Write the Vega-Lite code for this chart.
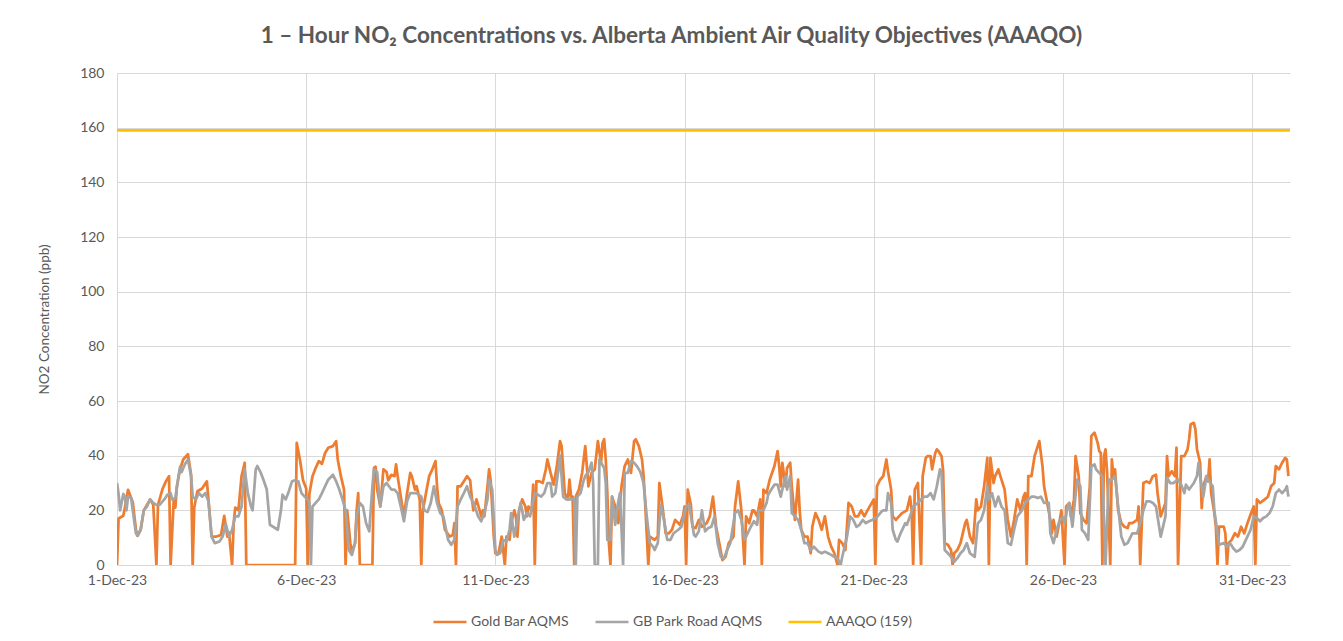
{
"$schema":"https://vega.github.io/schema/vega-lite/v6.json",
"width":1173,"height":492,
"autosize":{"type":"none"},
"padding":{"left":117,"top":73,"right":53,"bottom":76},
"background":"white",
"config":{"view":{"stroke":null},"font":"Lato",
 "axis":{"labelFont":"Lato","titleFont":"Lato","labelColor":"#595959","titleColor":"#595959","gridColor":"#D9D9D9","gridWidth":1,"tickSize":0,"labelFontSize":14,"titleFontSize":13.5,"titleFontWeight":"normal"},
 "legend":{"labelFont":"Lato","labelFontSize":14,"labelColor":"#595959"}},
"title":{"text":"1 – Hour NO₂ Concentrations vs. Alberta Ambient Air Quality Objectives (AAAQO)","font":"Lato","fontSize":22.5,"fontWeight":"bold","color":"#595959","anchor":"middle","frame":"group","dx":-32,"offset":19},
"datasets":{
"gold":[
{"t":"2023-12-01T00:00","v":0},{"t":"2023-12-01T01:00","v":17},{"t":"2023-12-01T04:00","v":18},{"t":"2023-12-01T05:00","v":21},{"t":"2023-12-01T07:00","v":27.5},{"t":"2023-12-01T10:00","v":23},{"t":"2023-12-01T12:00","v":13},{"t":"2023-12-01T13:00","v":10.7},{"t":"2023-12-01T15:00","v":12.9},{"t":"2023-12-01T17:00","v":20},{"t":"2023-12-01T19:00","v":22},{"t":"2023-12-01T21:00","v":24},{"t":"2023-12-01T23:00","v":22},
{"t":"2023-12-02T01:00","v":0},{"t":"2023-12-02T02:00","v":22},{"t":"2023-12-02T05:00","v":28},{"t":"2023-12-02T07:00","v":30.6},{"t":"2023-12-02T09:00","v":32.5},{"t":"2023-12-02T10:00","v":0},{"t":"2023-12-02T12:00","v":24},{"t":"2023-12-02T13:00","v":21},{"t":"2023-12-02T14:00","v":28.8},{"t":"2023-12-02T16:00","v":35},{"t":"2023-12-02T18:00","v":38.6},{"t":"2023-12-02T21:00","v":40.5},{"t":"2023-12-02T23:00","v":33},
{"t":"2023-12-03T00:00","v":0},{"t":"2023-12-03T01:00","v":21},{"t":"2023-12-03T03:00","v":27},{"t":"2023-12-03T06:00","v":28},{"t":"2023-12-03T09:00","v":30.6},{"t":"2023-12-03T10:00","v":24},{"t":"2023-12-03T12:00","v":10.4},{"t":"2023-12-03T15:00","v":10.4},{"t":"2023-12-03T18:00","v":11},{"t":"2023-12-03T20:00","v":18},{"t":"2023-12-03T22:00","v":10.4},{"t":"2023-12-03T23:00","v":12},
{"t":"2023-12-04T01:00","v":0},{"t":"2023-12-04T02:00","v":15.3},{"t":"2023-12-04T03:00","v":21},{"t":"2023-12-04T05:00","v":20},{"t":"2023-12-04T07:00","v":32.5},{"t":"2023-12-04T09:00","v":37.4},{"t":"2023-12-04T10:00","v":0},
{"t":"2023-12-05T17:00","v":0},{"t":"2023-12-05T18:00","v":44.7},{"t":"2023-12-05T20:00","v":38.6},{"t":"2023-12-05T22:00","v":31},
{"t":"2023-12-06T00:00","v":28},{"t":"2023-12-06T01:00","v":0},{"t":"2023-12-06T02:00","v":26},{"t":"2023-12-06T04:00","v":32.5},{"t":"2023-12-06T06:00","v":35.5},{"t":"2023-12-06T08:00","v":38},{"t":"2023-12-06T10:00","v":37},{"t":"2023-12-06T12:00","v":41},{"t":"2023-12-06T14:00","v":42.9},{"t":"2023-12-06T17:00","v":43.5},{"t":"2023-12-06T19:00","v":45.3},{"t":"2023-12-06T20:00","v":38.6},{"t":"2023-12-06T22:00","v":32.5},
{"t":"2023-12-07T00:00","v":27.6},{"t":"2023-12-07T01:00","v":0},{"t":"2023-12-07T02:00","v":20},{"t":"2023-12-07T04:00","v":8},{"t":"2023-12-07T05:00","v":4.9},{"t":"2023-12-07T07:00","v":8},{"t":"2023-12-07T08:00","v":20},{"t":"2023-12-07T09:00","v":26.3},{"t":"2023-12-07T10:00","v":0},{"t":"2023-12-07T18:00","v":0},{"t":"2023-12-07T19:00","v":35.5},{"t":"2023-12-07T20:00","v":36},{"t":"2023-12-07T21:00","v":27.6},{"t":"2023-12-07T23:00","v":21.4},
{"t":"2023-12-08T01:00","v":35},{"t":"2023-12-08T03:00","v":34},{"t":"2023-12-08T04:00","v":31},{"t":"2023-12-08T06:00","v":33},{"t":"2023-12-08T08:00","v":32.5},{"t":"2023-12-08T09:00","v":36.8},{"t":"2023-12-08T10:00","v":32.5},{"t":"2023-12-08T12:00","v":25},{"t":"2023-12-08T14:00","v":17.8},{"t":"2023-12-08T16:00","v":26.3},{"t":"2023-12-08T18:00","v":33.7},{"t":"2023-12-08T19:00","v":32.5},{"t":"2023-12-08T21:00","v":27.6},{"t":"2023-12-08T22:00","v":28.8},
{"t":"2023-12-09T00:00","v":24},{"t":"2023-12-09T01:00","v":0},{"t":"2023-12-09T02:00","v":20},{"t":"2023-12-09T04:00","v":26.3},{"t":"2023-12-09T06:00","v":32.5},{"t":"2023-12-09T08:00","v":35},{"t":"2023-12-09T10:00","v":38},{"t":"2023-12-09T11:00","v":28.8},{"t":"2023-12-09T12:00","v":22.7},{"t":"2023-12-09T14:00","v":20},{"t":"2023-12-09T16:00","v":12.9},{"t":"2023-12-09T19:00","v":10.4},{"t":"2023-12-09T21:00","v":11},{"t":"2023-12-09T22:00","v":15.3},{"t":"2023-12-09T23:00","v":0},
{"t":"2023-12-10T00:00","v":28.8},{"t":"2023-12-10T02:00","v":28.8},{"t":"2023-12-10T04:00","v":30.6},{"t":"2023-12-10T06:00","v":32.5},{"t":"2023-12-10T08:00","v":31},{"t":"2023-12-10T09:00","v":25},{"t":"2023-12-10T10:00","v":20},{"t":"2023-12-10T12:00","v":24},{"t":"2023-12-10T14:00","v":20},{"t":"2023-12-10T15:00","v":17.8},{"t":"2023-12-10T16:00","v":20},{"t":"2023-12-10T17:00","v":17.8},{"t":"2023-12-10T19:00","v":28.8},{"t":"2023-12-10T20:00","v":35},{"t":"2023-12-10T21:00","v":31},{"t":"2023-12-10T23:00","v":10.4},
{"t":"2023-12-11T00:00","v":4.3},{"t":"2023-12-11T02:00","v":4.3},{"t":"2023-12-11T04:00","v":10.4},{"t":"2023-12-11T06:00","v":0},{"t":"2023-12-11T07:00","v":10.4},{"t":"2023-12-11T09:00","v":9.2},{"t":"2023-12-11T10:00","v":15.3},{"t":"2023-12-11T12:00","v":20},{"t":"2023-12-11T13:00","v":17.8},{"t":"2023-12-11T14:00","v":10.4},{"t":"2023-12-11T15:00","v":20},{"t":"2023-12-11T17:00","v":24},{"t":"2023-12-11T19:00","v":21.4},{"t":"2023-12-11T20:00","v":17.8},{"t":"2023-12-11T21:00","v":21.4},{"t":"2023-12-11T23:00","v":20},
{"t":"2023-12-12T00:00","v":29.4},{"t":"2023-12-12T01:00","v":0},{"t":"2023-12-12T02:00","v":30.6},{"t":"2023-12-12T04:00","v":30.6},{"t":"2023-12-12T06:00","v":30},{"t":"2023-12-12T08:00","v":35},{"t":"2023-12-12T09:00","v":38.6},{"t":"2023-12-12T11:00","v":33.7},{"t":"2023-12-12T13:00","v":29.4},{"t":"2023-12-12T15:00","v":36.2},{"t":"2023-12-12T17:00","v":45.3},{"t":"2023-12-12T18:00","v":43.5},{"t":"2023-12-12T20:00","v":26.3},{"t":"2023-12-12T22:00","v":24},{"t":"2023-12-12T23:00","v":31.2},
{"t":"2023-12-13T00:00","v":25},{"t":"2023-12-13T01:00","v":25},{"t":"2023-12-13T02:00","v":0},{"t":"2023-12-13T03:00","v":25},{"t":"2023-12-13T05:00","v":27.6},{"t":"2023-12-13T07:00","v":33.7},{"t":"2023-12-13T09:00","v":43.5},{"t":"2023-12-13T11:00","v":28.8},{"t":"2023-12-13T13:00","v":33.7},{"t":"2023-12-13T15:00","v":35},{"t":"2023-12-13T17:00","v":45.3},{"t":"2023-12-13T19:00","v":37.4},{"t":"2023-12-13T20:00","v":44.7},{"t":"2023-12-13T21:00","v":46},{"t":"2023-12-13T22:00","v":38.6},{"t":"2023-12-13T23:00","v":26.3},
{"t":"2023-12-14T00:00","v":8},{"t":"2023-12-14T01:00","v":0},{"t":"2023-12-14T02:00","v":25},{"t":"2023-12-14T04:00","v":21.4},{"t":"2023-12-14T06:00","v":15.3},{"t":"2023-12-14T08:00","v":28.8},{"t":"2023-12-14T10:00","v":36.2},{"t":"2023-12-14T12:00","v":38.6},{"t":"2023-12-14T14:00","v":33.7},{"t":"2023-12-14T16:00","v":45.3},{"t":"2023-12-14T17:00","v":46},{"t":"2023-12-14T19:00","v":43.5},{"t":"2023-12-14T21:00","v":38.6},{"t":"2023-12-14T22:00","v":32.5},{"t":"2023-12-14T23:00","v":22.7},
{"t":"2023-12-15T01:00","v":0},{"t":"2023-12-15T02:00","v":10.4},{"t":"2023-12-15T05:00","v":9.2},{"t":"2023-12-15T07:00","v":10.4},{"t":"2023-12-15T08:00","v":30},{"t":"2023-12-15T10:00","v":21.4},{"t":"2023-12-15T12:00","v":11.6},{"t":"2023-12-15T14:00","v":11.6},{"t":"2023-12-15T16:00","v":12.9},{"t":"2023-12-15T18:00","v":16.5},{"t":"2023-12-15T21:00","v":14.7},{"t":"2023-12-15T23:00","v":17.8},
{"t":"2023-12-16T00:00","v":21.4},{"t":"2023-12-16T01:00","v":0},{"t":"2023-12-16T02:00","v":27.6},{"t":"2023-12-16T04:00","v":22},{"t":"2023-12-16T05:00","v":14},{"t":"2023-12-16T07:00","v":13.5},{"t":"2023-12-16T09:00","v":16.5},{"t":"2023-12-16T11:00","v":14},{"t":"2023-12-16T14:00","v":15.3},{"t":"2023-12-16T16:00","v":17.8},{"t":"2023-12-16T18:00","v":25},{"t":"2023-12-16T20:00","v":14},{"t":"2023-12-16T22:00","v":8},
{"t":"2023-12-17T00:00","v":1.8},{"t":"2023-12-17T02:00","v":3},{"t":"2023-12-17T04:00","v":8},{"t":"2023-12-17T07:00","v":10.4},{"t":"2023-12-17T08:00","v":21.4},{"t":"2023-12-17T10:00","v":30.6},{"t":"2023-12-17T12:00","v":20},{"t":"2023-12-17T14:00","v":0},{"t":"2023-12-17T15:00","v":17.8},{"t":"2023-12-17T17:00","v":15.3},{"t":"2023-12-17T19:00","v":20},{"t":"2023-12-17T20:00","v":20},{"t":"2023-12-17T22:00","v":17.8},
{"t":"2023-12-18T00:00","v":24},{"t":"2023-12-18T01:00","v":0},{"t":"2023-12-18T02:00","v":27.6},{"t":"2023-12-18T04:00","v":26.3},{"t":"2023-12-18T06:00","v":31.2},{"t":"2023-12-18T09:00","v":36.2},{"t":"2023-12-18T11:00","v":41.7},{"t":"2023-12-18T12:00","v":36.2},{"t":"2023-12-18T13:00","v":28.8},{"t":"2023-12-18T14:00","v":37.4},{"t":"2023-12-18T16:00","v":28.8},{"t":"2023-12-18T17:00","v":35.5},{"t":"2023-12-18T19:00","v":37.4},{"t":"2023-12-18T20:00","v":28.8},{"t":"2023-12-18T22:00","v":16.5},
{"t":"2023-12-19T00:00","v":31.2},{"t":"2023-12-19T01:00","v":20},{"t":"2023-12-19T02:00","v":12.9},{"t":"2023-12-19T04:00","v":10.4},{"t":"2023-12-19T06:00","v":10.4},{"t":"2023-12-19T08:00","v":4.3},{"t":"2023-12-19T09:00","v":14},{"t":"2023-12-19T11:00","v":19},{"t":"2023-12-19T13:00","v":16.5},{"t":"2023-12-19T15:00","v":12.9},{"t":"2023-12-19T17:00","v":17.8},{"t":"2023-12-19T19:00","v":10.4},{"t":"2023-12-19T21:00","v":6.7},{"t":"2023-12-19T23:00","v":4.3},
{"t":"2023-12-20T01:00","v":0},{"t":"2023-12-20T02:00","v":9.2},{"t":"2023-12-20T04:00","v":8},{"t":"2023-12-20T06:00","v":5.5},{"t":"2023-12-20T08:00","v":22.7},{"t":"2023-12-20T10:00","v":21.4},{"t":"2023-12-20T12:00","v":17.8},{"t":"2023-12-20T14:00","v":17.8},{"t":"2023-12-20T16:00","v":20},{"t":"2023-12-20T18:00","v":17.8},{"t":"2023-12-20T20:00","v":20},{"t":"2023-12-20T22:00","v":22},
{"t":"2023-12-21T00:00","v":24},{"t":"2023-12-21T01:00","v":0},{"t":"2023-12-21T02:00","v":28.8},{"t":"2023-12-21T04:00","v":31.2},{"t":"2023-12-21T06:00","v":32.5},{"t":"2023-12-21T08:00","v":38.6},{"t":"2023-12-21T09:00","v":34.3},{"t":"2023-12-21T11:00","v":27.6},{"t":"2023-12-21T12:00","v":17.8},{"t":"2023-12-21T14:00","v":16.5},{"t":"2023-12-21T16:00","v":17.8},{"t":"2023-12-21T18:00","v":19},{"t":"2023-12-21T21:00","v":20},{"t":"2023-12-21T23:00","v":25},
{"t":"2023-12-22T00:00","v":20},{"t":"2023-12-22T01:00","v":0},{"t":"2023-12-22T02:00","v":27.6},{"t":"2023-12-22T04:00","v":30},{"t":"2023-12-22T06:00","v":0},{"t":"2023-12-22T07:00","v":32.5},{"t":"2023-12-22T09:00","v":39.2},{"t":"2023-12-22T10:00","v":39.8},{"t":"2023-12-22T12:00","v":39.8},{"t":"2023-12-22T13:00","v":35},{"t":"2023-12-22T15:00","v":41},{"t":"2023-12-22T16:00","v":42.3},{"t":"2023-12-22T17:00","v":41.7},{"t":"2023-12-22T19:00","v":39.8},{"t":"2023-12-22T20:00","v":34.3},{"t":"2023-12-22T21:00","v":8},{"t":"2023-12-22T23:00","v":7.4},
{"t":"2023-12-23T01:00","v":5.5},{"t":"2023-12-23T02:00","v":0},{"t":"2023-12-23T03:00","v":4.3},{"t":"2023-12-23T05:00","v":5.5},{"t":"2023-12-23T07:00","v":8},{"t":"2023-12-23T10:00","v":15.3},{"t":"2023-12-23T11:00","v":16.5},{"t":"2023-12-23T13:00","v":10.4},{"t":"2023-12-23T15:00","v":8},{"t":"2023-12-23T17:00","v":24},{"t":"2023-12-23T18:00","v":20},{"t":"2023-12-23T20:00","v":21.4},{"t":"2023-12-23T22:00","v":28.8},
{"t":"2023-12-24T00:00","v":39.2},{"t":"2023-12-24T01:00","v":0},{"t":"2023-12-24T02:00","v":39.2},{"t":"2023-12-24T04:00","v":30},{"t":"2023-12-24T05:00","v":32.5},{"t":"2023-12-24T07:00","v":35},{"t":"2023-12-24T09:00","v":31.2},{"t":"2023-12-24T11:00","v":27.6},{"t":"2023-12-24T13:00","v":16.5},{"t":"2023-12-24T15:00","v":10.4},{"t":"2023-12-24T17:00","v":16.5},{"t":"2023-12-24T19:00","v":24},{"t":"2023-12-24T21:00","v":20},{"t":"2023-12-24T23:00","v":25},
{"t":"2023-12-25T00:00","v":26.3},{"t":"2023-12-25T01:00","v":0},{"t":"2023-12-25T02:00","v":32.5},{"t":"2023-12-25T04:00","v":32.5},{"t":"2023-12-25T06:00","v":39.8},{"t":"2023-12-25T08:00","v":43.5},{"t":"2023-12-25T09:00","v":45.3},{"t":"2023-12-25T11:00","v":36.2},{"t":"2023-12-25T12:00","v":28.8},{"t":"2023-12-25T14:00","v":22.7},{"t":"2023-12-25T16:00","v":16.5},{"t":"2023-12-25T17:00","v":11.6},{"t":"2023-12-25T18:00","v":16.5},{"t":"2023-12-25T20:00","v":10.4},{"t":"2023-12-25T22:00","v":16.5},{"t":"2023-12-25T23:00","v":20},
{"t":"2023-12-26T01:00","v":0},{"t":"2023-12-26T02:00","v":21.4},{"t":"2023-12-26T04:00","v":22.7},{"t":"2023-12-26T05:00","v":17.8},{"t":"2023-12-26T07:00","v":24},{"t":"2023-12-26T08:00","v":39.8},{"t":"2023-12-26T10:00","v":32.5},{"t":"2023-12-26T11:00","v":19},{"t":"2023-12-26T13:00","v":16.5},{"t":"2023-12-26T15:00","v":15.3},{"t":"2023-12-26T17:00","v":28.8},{"t":"2023-12-26T18:00","v":47.2},{"t":"2023-12-26T20:00","v":48.4},{"t":"2023-12-26T22:00","v":44.7},{"t":"2023-12-26T23:00","v":41.7},
{"t":"2023-12-27T00:00","v":41},{"t":"2023-12-27T01:00","v":0},{"t":"2023-12-27T02:00","v":39.8},{"t":"2023-12-27T03:00","v":42.3},{"t":"2023-12-27T04:00","v":33.7},{"t":"2023-12-27T06:00","v":0},{"t":"2023-12-27T07:00","v":38.6},{"t":"2023-12-27T08:00","v":32.5},{"t":"2023-12-27T09:00","v":35},{"t":"2023-12-27T11:00","v":20},{"t":"2023-12-27T13:00","v":15.3},{"t":"2023-12-27T15:00","v":14},{"t":"2023-12-27T17:00","v":13.5},{"t":"2023-12-27T18:00","v":15.3},{"t":"2023-12-27T20:00","v":15.3},{"t":"2023-12-27T23:00","v":16.5},
{"t":"2023-12-28T00:00","v":21.4},{"t":"2023-12-28T01:00","v":0},{"t":"2023-12-28T03:00","v":30},{"t":"2023-12-28T05:00","v":30.6},{"t":"2023-12-28T07:00","v":30},{"t":"2023-12-28T09:00","v":32.5},{"t":"2023-12-28T11:00","v":33},{"t":"2023-12-28T12:00","v":26.3},{"t":"2023-12-28T14:00","v":17.8},{"t":"2023-12-28T17:00","v":22.7},{"t":"2023-12-28T18:00","v":39.8},{"t":"2023-12-28T19:00","v":32.5},{"t":"2023-12-28T21:00","v":34.3},{"t":"2023-12-28T23:00","v":32.5},
{"t":"2023-12-29T00:00","v":42.9},{"t":"2023-12-29T01:00","v":0},{"t":"2023-12-29T03:00","v":39.8},{"t":"2023-12-29T05:00","v":39.8},{"t":"2023-12-29T07:00","v":42.3},{"t":"2023-12-29T08:00","v":46},{"t":"2023-12-29T09:00","v":51.5},{"t":"2023-12-29T11:00","v":52},{"t":"2023-12-29T12:00","v":49.6},{"t":"2023-12-29T13:00","v":42.3},{"t":"2023-12-29T15:00","v":37.4},{"t":"2023-12-29T16:00","v":20.8},{"t":"2023-12-29T17:00","v":28.8},{"t":"2023-12-29T19:00","v":32.5},{"t":"2023-12-29T20:00","v":30.6},{"t":"2023-12-29T21:00","v":38.6},{"t":"2023-12-29T22:00","v":26.3},
{"t":"2023-12-30T00:00","v":19},{"t":"2023-12-30T01:00","v":14},{"t":"2023-12-30T02:00","v":0},{"t":"2023-12-30T03:00","v":14},{"t":"2023-12-30T06:00","v":14},{"t":"2023-12-30T07:00","v":11.6},{"t":"2023-12-30T08:00","v":0},{"t":"2023-12-30T09:00","v":8},{"t":"2023-12-30T11:00","v":9.2},{"t":"2023-12-30T13:00","v":11.6},{"t":"2023-12-30T15:00","v":10.4},{"t":"2023-12-30T17:00","v":14},{"t":"2023-12-30T19:00","v":11.6},{"t":"2023-12-30T21:00","v":15.3},
{"t":"2023-12-31T00:00","v":20},{"t":"2023-12-31T01:00","v":21.4},{"t":"2023-12-31T02:00","v":0},{"t":"2023-12-31T03:00","v":24},{"t":"2023-12-31T05:00","v":22.7},{"t":"2023-12-31T08:00","v":24},{"t":"2023-12-31T10:00","v":25},{"t":"2023-12-31T12:00","v":28.8},{"t":"2023-12-31T14:00","v":30},{"t":"2023-12-31T15:00","v":36.2},{"t":"2023-12-31T17:00","v":35},{"t":"2023-12-31T19:00","v":37.4},{"t":"2023-12-31T21:00","v":39.2},{"t":"2023-12-31T22:00","v":38.6},{"t":"2023-12-31T23:00","v":32.5}
],
"park":[
{"t":"2023-12-01T00:00","v":30},{"t":"2023-12-01T01:00","v":26},{"t":"2023-12-01T02:00","v":20},{"t":"2023-12-01T04:00","v":26},{"t":"2023-12-01T05:00","v":25},{"t":"2023-12-01T06:00","v":20},{"t":"2023-12-01T07:00","v":25},{"t":"2023-12-01T09:00","v":24.5},{"t":"2023-12-01T10:00","v":20},{"t":"2023-12-01T12:00","v":11.6},{"t":"2023-12-01T13:00","v":10.7},{"t":"2023-12-01T15:00","v":12.9},{"t":"2023-12-01T17:00","v":20},{"t":"2023-12-01T19:00","v":21.4},{"t":"2023-12-01T21:00","v":24},{"t":"2023-12-01T23:00","v":22.7},
{"t":"2023-12-02T01:00","v":22},{"t":"2023-12-02T03:00","v":22},{"t":"2023-12-02T06:00","v":24},{"t":"2023-12-02T08:00","v":25.7},{"t":"2023-12-02T10:00","v":26.3},{"t":"2023-12-02T11:00","v":24},{"t":"2023-12-02T13:00","v":24.5},{"t":"2023-12-02T15:00","v":32.5},{"t":"2023-12-02T16:00","v":36},{"t":"2023-12-02T17:00","v":34},{"t":"2023-12-02T19:00","v":36.8},{"t":"2023-12-02T21:00","v":38.6},{"t":"2023-12-02T23:00","v":32.5},
{"t":"2023-12-03T00:00","v":25},{"t":"2023-12-03T02:00","v":24},{"t":"2023-12-03T04:00","v":26.3},{"t":"2023-12-03T06:00","v":25},{"t":"2023-12-03T08:00","v":26.3},{"t":"2023-12-03T10:00","v":23.3},{"t":"2023-12-03T12:00","v":10.4},{"t":"2023-12-03T14:00","v":8},{"t":"2023-12-03T17:00","v":8.6},{"t":"2023-12-03T19:00","v":10.4},{"t":"2023-12-03T21:00","v":15},{"t":"2023-12-03T23:00","v":10.4},
{"t":"2023-12-04T01:00","v":12.9},{"t":"2023-12-04T03:00","v":17.8},{"t":"2023-12-04T05:00","v":17.8},{"t":"2023-12-04T07:00","v":21.4},{"t":"2023-12-04T09:00","v":35},{"t":"2023-12-04T11:00","v":26.3},{"t":"2023-12-04T13:00","v":21.4},{"t":"2023-12-04T14:00","v":20},{"t":"2023-12-04T16:00","v":35},{"t":"2023-12-04T17:00","v":36.2},{"t":"2023-12-04T19:00","v":34},{"t":"2023-12-04T21:00","v":31},{"t":"2023-12-04T23:00","v":27.6},
{"t":"2023-12-05T01:00","v":14.7},{"t":"2023-12-05T03:00","v":14},{"t":"2023-12-05T06:00","v":12.9},{"t":"2023-12-05T08:00","v":20},{"t":"2023-12-05T09:00","v":25.7},{"t":"2023-12-05T11:00","v":24},{"t":"2023-12-05T13:00","v":27},{"t":"2023-12-05T15:00","v":30.6},{"t":"2023-12-05T17:00","v":31},{"t":"2023-12-05T19:00","v":30.6},{"t":"2023-12-05T21:00","v":26.3},{"t":"2023-12-05T23:00","v":25},
{"t":"2023-12-06T01:00","v":24},{"t":"2023-12-06T02:00","v":22.7},{"t":"2023-12-06T03:00","v":0},{"t":"2023-12-06T04:00","v":21.4},{"t":"2023-12-06T06:00","v":22.7},{"t":"2023-12-06T08:00","v":24},{"t":"2023-12-06T10:00","v":26.3},{"t":"2023-12-06T12:00","v":28.8},{"t":"2023-12-06T14:00","v":31.2},{"t":"2023-12-06T17:00","v":33},{"t":"2023-12-06T19:00","v":30.6},{"t":"2023-12-06T21:00","v":27.6},{"t":"2023-12-06T23:00","v":24},
{"t":"2023-12-07T01:00","v":20},{"t":"2023-12-07T03:00","v":5.5},{"t":"2023-12-07T05:00","v":3.7},{"t":"2023-12-07T07:00","v":8},{"t":"2023-12-07T08:00","v":17.8},{"t":"2023-12-07T10:00","v":22.7},{"t":"2023-12-07T12:00","v":21.4},{"t":"2023-12-07T14:00","v":15.3},{"t":"2023-12-07T16:00","v":12.3},{"t":"2023-12-07T18:00","v":28.8},{"t":"2023-12-07T19:00","v":35},{"t":"2023-12-07T21:00","v":34},{"t":"2023-12-07T23:00","v":21.4},
{"t":"2023-12-08T01:00","v":28.8},{"t":"2023-12-08T03:00","v":30},{"t":"2023-12-08T06:00","v":27.6},{"t":"2023-12-08T08:00","v":27.6},{"t":"2023-12-08T10:00","v":26.3},{"t":"2023-12-08T12:00","v":21.4},{"t":"2023-12-08T14:00","v":16},{"t":"2023-12-08T16:00","v":23.3},{"t":"2023-12-08T18:00","v":26.3},{"t":"2023-12-08T20:00","v":26.3},{"t":"2023-12-08T22:00","v":26.3},
{"t":"2023-12-09T01:00","v":25},{"t":"2023-12-09T03:00","v":20},{"t":"2023-12-09T05:00","v":19.4},{"t":"2023-12-09T07:00","v":22.7},{"t":"2023-12-09T09:00","v":28.8},{"t":"2023-12-09T11:00","v":22.7},{"t":"2023-12-09T13:00","v":19},{"t":"2023-12-09T15:00","v":17.8},{"t":"2023-12-09T18:00","v":9.2},{"t":"2023-12-09T20:00","v":7.4},{"t":"2023-12-09T22:00","v":9.2},
{"t":"2023-12-10T00:00","v":21.4},{"t":"2023-12-10T02:00","v":24},{"t":"2023-12-10T04:00","v":26.3},{"t":"2023-12-10T06:00","v":28.8},{"t":"2023-12-10T08:00","v":25},{"t":"2023-12-10T11:00","v":21.4},{"t":"2023-12-10T13:00","v":17.8},{"t":"2023-12-10T15:00","v":16},{"t":"2023-12-10T17:00","v":19},{"t":"2023-12-10T19:00","v":24},{"t":"2023-12-10T20:00","v":31.2},{"t":"2023-12-10T22:00","v":27.6},
{"t":"2023-12-11T00:00","v":5.5},{"t":"2023-12-11T01:00","v":3.7},{"t":"2023-12-11T03:00","v":4.3},{"t":"2023-12-11T05:00","v":9.2},{"t":"2023-12-11T07:00","v":8.6},{"t":"2023-12-11T09:00","v":12.9},{"t":"2023-12-11T10:00","v":19},{"t":"2023-12-11T12:00","v":10.4},{"t":"2023-12-11T14:00","v":16.5},{"t":"2023-12-11T16:00","v":22.7},{"t":"2023-12-11T17:00","v":20},{"t":"2023-12-11T18:00","v":16.5},{"t":"2023-12-11T20:00","v":19},{"t":"2023-12-11T22:00","v":17.8},
{"t":"2023-12-12T01:00","v":26.3},{"t":"2023-12-12T03:00","v":25.7},{"t":"2023-12-12T05:00","v":25},{"t":"2023-12-12T07:00","v":26.3},{"t":"2023-12-12T09:00","v":30},{"t":"2023-12-12T11:00","v":30},{"t":"2023-12-12T12:00","v":25},{"t":"2023-12-12T14:00","v":26.3},{"t":"2023-12-12T16:00","v":35},{"t":"2023-12-12T17:00","v":40},{"t":"2023-12-12T19:00","v":25},{"t":"2023-12-12T21:00","v":24},
{"t":"2023-12-13T00:00","v":24},{"t":"2023-12-13T02:00","v":24},{"t":"2023-12-13T03:00","v":0},{"t":"2023-12-13T04:00","v":25},{"t":"2023-12-13T06:00","v":26.3},{"t":"2023-12-13T08:00","v":31},{"t":"2023-12-13T09:00","v":32.5},{"t":"2023-12-13T11:00","v":34},{"t":"2023-12-13T13:00","v":37.4},{"t":"2023-12-13T14:00","v":30},{"t":"2023-12-13T15:00","v":0},{"t":"2023-12-13T17:00","v":0},{"t":"2023-12-13T18:00","v":38.6},{"t":"2023-12-13T19:00","v":37.4},{"t":"2023-12-13T21:00","v":35.5},{"t":"2023-12-13T22:00","v":30},{"t":"2023-12-13T23:00","v":9.2},
{"t":"2023-12-14T01:00","v":9.2},{"t":"2023-12-14T02:00","v":25},{"t":"2023-12-14T04:00","v":14.7},{"t":"2023-12-14T05:00","v":20},{"t":"2023-12-14T07:00","v":26.3},{"t":"2023-12-14T09:00","v":0},{"t":"2023-12-14T10:00","v":33.7},{"t":"2023-12-14T12:00","v":33.7},{"t":"2023-12-14T14:00","v":38},{"t":"2023-12-14T16:00","v":37.4},{"t":"2023-12-14T18:00","v":36},{"t":"2023-12-14T20:00","v":34},{"t":"2023-12-14T22:00","v":30},
{"t":"2023-12-15T00:00","v":17.8},{"t":"2023-12-15T02:00","v":8},{"t":"2023-12-15T04:00","v":6.7},{"t":"2023-12-15T05:00","v":5.5},{"t":"2023-12-15T07:00","v":8},{"t":"2023-12-15T09:00","v":22},{"t":"2023-12-15T11:00","v":16.5},{"t":"2023-12-15T13:00","v":9.2},{"t":"2023-12-15T15:00","v":9.2},{"t":"2023-12-15T17:00","v":11.6},{"t":"2023-12-15T20:00","v":12.9},{"t":"2023-12-15T22:00","v":14},{"t":"2023-12-15T23:00","v":16.5},
{"t":"2023-12-16T01:00","v":21.4},{"t":"2023-12-16T03:00","v":22},{"t":"2023-12-16T04:00","v":18},{"t":"2023-12-16T06:00","v":11},{"t":"2023-12-16T07:00","v":10.4},{"t":"2023-12-16T09:00","v":12.3},{"t":"2023-12-16T11:00","v":20},{"t":"2023-12-16T13:00","v":12.3},{"t":"2023-12-16T15:00","v":13.5},{"t":"2023-12-16T17:00","v":14},{"t":"2023-12-16T19:00","v":17.8},{"t":"2023-12-16T21:00","v":8},{"t":"2023-12-16T23:00","v":3},
{"t":"2023-12-17T01:00","v":2.5},{"t":"2023-12-17T03:00","v":5.5},{"t":"2023-12-17T05:00","v":8},{"t":"2023-12-17T08:00","v":19},{"t":"2023-12-17T10:00","v":20},{"t":"2023-12-17T12:00","v":16.5},{"t":"2023-12-17T14:00","v":9.2},{"t":"2023-12-17T16:00","v":11.6},{"t":"2023-12-17T18:00","v":14},{"t":"2023-12-17T20:00","v":16},{"t":"2023-12-17T22:00","v":14.7},{"t":"2023-12-17T23:00","v":20},
{"t":"2023-12-18T02:00","v":20},{"t":"2023-12-18T04:00","v":22.7},{"t":"2023-12-18T05:00","v":25.7},{"t":"2023-12-18T07:00","v":27.6},{"t":"2023-12-18T09:00","v":29.4},{"t":"2023-12-18T11:00","v":29.4},{"t":"2023-12-18T13:00","v":25},{"t":"2023-12-18T14:00","v":27.6},{"t":"2023-12-18T16:00","v":32.5},{"t":"2023-12-18T17:00","v":27.6},{"t":"2023-12-18T19:00","v":32.5},{"t":"2023-12-18T20:00","v":19},{"t":"2023-12-18T22:00","v":17.8},
{"t":"2023-12-19T00:00","v":16.5},{"t":"2023-12-19T02:00","v":12.9},{"t":"2023-12-19T04:00","v":8},{"t":"2023-12-19T06:00","v":8},{"t":"2023-12-19T08:00","v":5.5},{"t":"2023-12-19T10:00","v":6.7},{"t":"2023-12-19T13:00","v":4.9},{"t":"2023-12-19T15:00","v":4.3},{"t":"2023-12-19T17:00","v":4.9},{"t":"2023-12-19T19:00","v":4.3},{"t":"2023-12-19T21:00","v":3.7},{"t":"2023-12-19T23:00","v":3},
{"t":"2023-12-20T01:00","v":2.5},{"t":"2023-12-20T03:00","v":0},{"t":"2023-12-20T04:00","v":3},{"t":"2023-12-20T07:00","v":10.4},{"t":"2023-12-20T09:00","v":17.8},{"t":"2023-12-20T11:00","v":16.5},{"t":"2023-12-20T13:00","v":14},{"t":"2023-12-20T15:00","v":14.7},{"t":"2023-12-20T17:00","v":16.5},{"t":"2023-12-20T19:00","v":15.3},{"t":"2023-12-20T21:00","v":16},{"t":"2023-12-20T23:00","v":16.5},
{"t":"2023-12-21T02:00","v":17.5},{"t":"2023-12-21T05:00","v":19.6},{"t":"2023-12-21T06:00","v":20},{"t":"2023-12-21T08:00","v":20},{"t":"2023-12-21T09:00","v":26.3},{"t":"2023-12-21T11:00","v":22.7},{"t":"2023-12-21T12:00","v":12.9},{"t":"2023-12-21T14:00","v":9.2},{"t":"2023-12-21T15:00","v":8.6},{"t":"2023-12-21T17:00","v":11.6},{"t":"2023-12-21T20:00","v":15.3},{"t":"2023-12-21T21:00","v":14.7},{"t":"2023-12-21T23:00","v":17.8},
{"t":"2023-12-22T01:00","v":21.4},{"t":"2023-12-22T04:00","v":22.7},{"t":"2023-12-22T06:00","v":24},{"t":"2023-12-22T08:00","v":25},{"t":"2023-12-22T10:00","v":25},{"t":"2023-12-22T12:00","v":26.3},{"t":"2023-12-22T14:00","v":24},{"t":"2023-12-22T16:00","v":28.8},{"t":"2023-12-22T18:00","v":35},{"t":"2023-12-22T19:00","v":33.7},{"t":"2023-12-22T21:00","v":5.5},{"t":"2023-12-22T23:00","v":4.3},
{"t":"2023-12-23T01:00","v":3},{"t":"2023-12-23T03:00","v":1.2},{"t":"2023-12-23T05:00","v":2.5},{"t":"2023-12-23T07:00","v":4.3},{"t":"2023-12-23T09:00","v":5.5},{"t":"2023-12-23T11:00","v":8},{"t":"2023-12-23T13:00","v":4.3},{"t":"2023-12-23T16:00","v":3},{"t":"2023-12-23T18:00","v":15.3},{"t":"2023-12-23T20:00","v":16.5},{"t":"2023-12-23T22:00","v":20},
{"t":"2023-12-24T00:00","v":28.8},{"t":"2023-12-24T01:00","v":24},{"t":"2023-12-24T03:00","v":26.3},{"t":"2023-12-24T05:00","v":21.4},{"t":"2023-12-24T07:00","v":25},{"t":"2023-12-24T09:00","v":21.4},{"t":"2023-12-24T11:00","v":20},{"t":"2023-12-24T13:00","v":8},{"t":"2023-12-24T15:00","v":7.4},{"t":"2023-12-24T17:00","v":12.9},{"t":"2023-12-24T19:00","v":17.8},{"t":"2023-12-24T22:00","v":20},
{"t":"2023-12-25T00:00","v":22.7},{"t":"2023-12-25T02:00","v":24},{"t":"2023-12-25T04:00","v":25},{"t":"2023-12-25T06:00","v":25},{"t":"2023-12-25T08:00","v":24.5},{"t":"2023-12-25T10:00","v":25},{"t":"2023-12-25T12:00","v":22.7},{"t":"2023-12-25T15:00","v":22.7},{"t":"2023-12-25T16:00","v":11.6},{"t":"2023-12-25T18:00","v":8},{"t":"2023-12-25T20:00","v":12.9},{"t":"2023-12-25T22:00","v":16.5},
{"t":"2023-12-26T00:00","v":17.5},{"t":"2023-12-26T01:00","v":15.3},{"t":"2023-12-26T03:00","v":21.4},{"t":"2023-12-26T04:00","v":22.7},{"t":"2023-12-26T06:00","v":14},{"t":"2023-12-26T07:00","v":20},{"t":"2023-12-26T09:00","v":31.2},{"t":"2023-12-26T11:00","v":28.8},{"t":"2023-12-26T12:00","v":12.9},{"t":"2023-12-26T14:00","v":11.6},{"t":"2023-12-26T16:00","v":9.2},{"t":"2023-12-26T18:00","v":36.2},{"t":"2023-12-26T20:00","v":36.8},{"t":"2023-12-26T21:00","v":35},{"t":"2023-12-26T23:00","v":33.7},
{"t":"2023-12-27T01:00","v":32.5},{"t":"2023-12-27T03:00","v":0},{"t":"2023-12-27T05:00","v":31.2},{"t":"2023-12-27T07:00","v":31.2},{"t":"2023-12-27T09:00","v":32.5},{"t":"2023-12-27T11:00","v":21.4},{"t":"2023-12-27T13:00","v":10.4},{"t":"2023-12-27T15:00","v":7.4},{"t":"2023-12-27T17:00","v":8},{"t":"2023-12-27T19:00","v":10.4},{"t":"2023-12-27T20:00","v":11.6},{"t":"2023-12-27T23:00","v":11.6},
{"t":"2023-12-28T01:00","v":15.3},{"t":"2023-12-28T03:00","v":20},{"t":"2023-12-28T05:00","v":23.3},{"t":"2023-12-28T07:00","v":23.3},{"t":"2023-12-28T09:00","v":22.7},{"t":"2023-12-28T11:00","v":21.4},{"t":"2023-12-28T13:00","v":14},{"t":"2023-12-28T14:00","v":10.4},{"t":"2023-12-28T17:00","v":17.8},{"t":"2023-12-28T18:00","v":31.9},{"t":"2023-12-28T20:00","v":30},{"t":"2023-12-28T22:00","v":30},
{"t":"2023-12-29T01:00","v":31.2},{"t":"2023-12-29T03:00","v":29.4},{"t":"2023-12-29T05:00","v":26.3},{"t":"2023-12-29T06:00","v":29.4},{"t":"2023-12-29T08:00","v":27.6},{"t":"2023-12-29T11:00","v":30},{"t":"2023-12-29T13:00","v":32.5},{"t":"2023-12-29T14:00","v":37.4},{"t":"2023-12-29T15:00","v":32.5},{"t":"2023-12-29T17:00","v":25},{"t":"2023-12-29T19:00","v":32.5},{"t":"2023-12-29T20:00","v":31.2},{"t":"2023-12-29T23:00","v":28.8},
{"t":"2023-12-30T00:00","v":20},{"t":"2023-12-30T02:00","v":11.6},{"t":"2023-12-30T03:00","v":7.4},{"t":"2023-12-30T06:00","v":8},{"t":"2023-12-30T08:00","v":6.7},{"t":"2023-12-30T10:00","v":8},{"t":"2023-12-30T12:00","v":6.1},{"t":"2023-12-30T14:00","v":4.9},{"t":"2023-12-30T16:00","v":5.5},{"t":"2023-12-30T18:00","v":6.7},{"t":"2023-12-30T20:00","v":9.2},{"t":"2023-12-30T23:00","v":12.9},
{"t":"2023-12-31T01:00","v":17.8},{"t":"2023-12-31T03:00","v":17.2},{"t":"2023-12-31T05:00","v":16},{"t":"2023-12-31T07:00","v":17.2},{"t":"2023-12-31T09:00","v":17.8},{"t":"2023-12-31T11:00","v":19},{"t":"2023-12-31T13:00","v":21.4},{"t":"2023-12-31T15:00","v":26.3},{"t":"2023-12-31T17:00","v":27.6},{"t":"2023-12-31T19:00","v":26.3},{"t":"2023-12-31T21:00","v":27.6},{"t":"2023-12-31T22:00","v":28.8},{"t":"2023-12-31T23:00","v":25}
],
"aaaqo":[{"t":"2023-12-01T00:00","v":159},{"t":"2024-01-01T00:00","v":159}]
},
"layer":[
{"data":{"name":"gold"},"mark":{"type":"line","strokeWidth":2.75,"strokeJoin":"round","clip":true},
 "encoding":{
  "x":{"field":"t","type":"temporal","title":null,
   "scale":{"domain":[{"year":2023,"month":12,"date":1},{"year":2024,"month":1,"date":1}]},
   "axis":{"values":[{"year":2023,"month":12,"date":1},{"year":2023,"month":12,"date":6},{"year":2023,"month":12,"date":11},{"year":2023,"month":12,"date":16},{"year":2023,"month":12,"date":21},{"year":2023,"month":12,"date":26},{"year":2023,"month":12,"date":31}],
    "format":"%-d-%b-%y","labelFlush":false,"labelOverlap":false,"labelPadding":8,"grid":true,"domain":true,"domainColor":"#D9D9D9","domainWidth":1}},
  "y":{"field":"v","type":"quantitative","title":"NO2 Concentration (ppb)",
   "scale":{"domain":[0,180],"nice":false},
   "axis":{"values":[0,20,40,60,80,100,120,140,160,180],"grid":true,"domain":false,"labelPadding":13,"titlePadding":28}},
  "color":{"datum":"Gold Bar AQMS","type":"nominal",
   "scale":{"domain":["Gold Bar AQMS","GB Park Road AQMS","AAAQO (159)"],"range":["#ED7D31","#A5A5A5","#FFC000"]},
   "legend":{"title":null,"orient":"none","direction":"horizontal","legendX":315,"legendY":531,"symbolType":"stroke","symbolSize":1089,"symbolStrokeWidth":2.5,"columnPadding":20,"labelOffset":3}}
 }},
{"data":{"name":"park"},"mark":{"type":"line","strokeWidth":2.75,"strokeJoin":"round","clip":true},
 "encoding":{"x":{"field":"t","type":"temporal"},"y":{"field":"v","type":"quantitative"},"color":{"datum":"GB Park Road AQMS","type":"nominal"}}},
{"data":{"name":"aaaqo"},"mark":{"type":"line","strokeWidth":2.75,"clip":true},
 "encoding":{"x":{"field":"t","type":"temporal"},"y":{"field":"v","type":"quantitative"},"color":{"datum":"AAAQO (159)","type":"nominal"}}}
]
}
